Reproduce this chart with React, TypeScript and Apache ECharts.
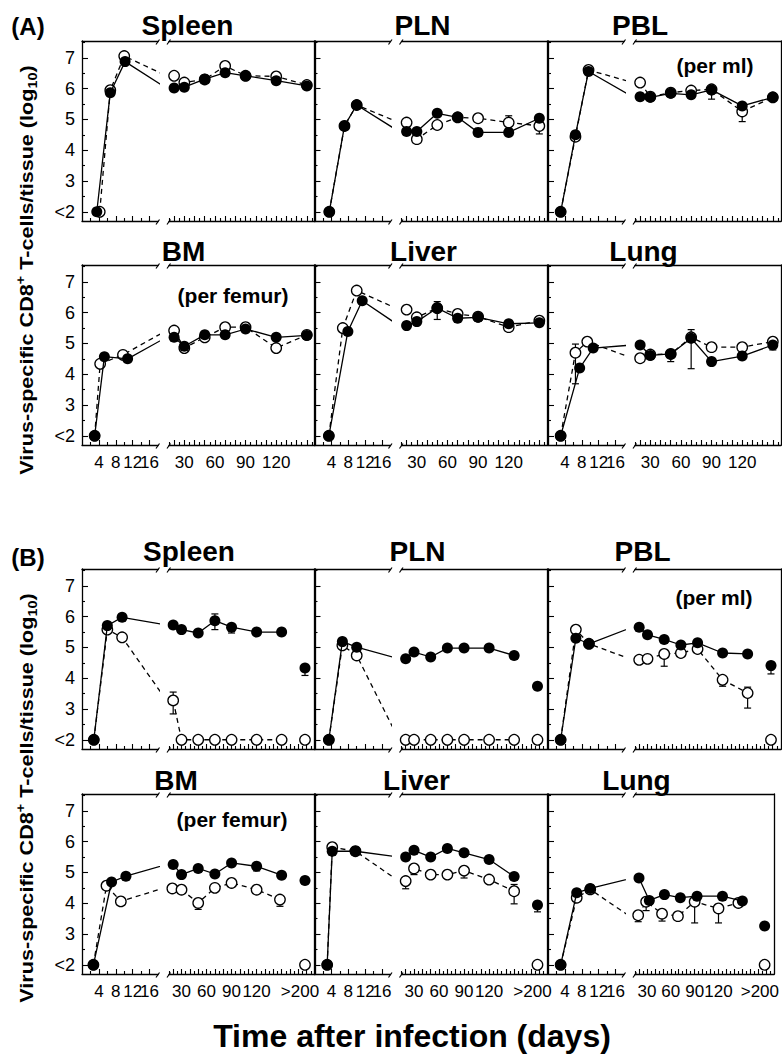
import React, { useEffect, useRef } from "react";
import * as echarts from "echarts";

const FONT = '"Liberation Sans", Arial, Helvetica, sans-serif';

// ---------------- axes / tick labels ----------------
const Y_MIN = 1.7;
const Y_MAX = 7.55;
const yMajorTicks = [2, 3, 4, 5, 6, 7];
const yMinorTicks = [2.5, 3.5, 4.5, 5.5, 6.5, 7.5];
const yTickLabels = ["<2", "3", "4", "5", "6", "7"];

const EARLY_MIN = 0;
const EARLY_MAX = 18;
const earlyMajorTicks = [4, 8, 12, 16];
const earlyMinorTicks = [2, 6, 10, 14];
const earlyLabelValues1 = [4, 8, 12];
const earlyTickLabels1 = ["4", "8", "12"];
const earlyLabelValues2 = [16];
const earlyTickLabels2 = ["16"];

const LATE_MIN = 15;
const LATE_MAX_A = 158;
const LATE_MAX_B = 190;
const lateMajorTicksA = [20, 30, 40, 50, 60, 70, 80, 90, 100, 110, 120, 130, 140, 150];
const lateMinorTicksA = [15, 25, 35, 45, 55, 65, 75, 85, 95, 105, 115, 125, 135, 145, 155];
const lateMajorTicksB = [20, 30, 40, 50, 60, 70, 80, 90, 100, 110, 120, 130, 140, 150, 160, 170, 180];
const lateMinorTicksB = [15, 25, 35, 45, 55, 65, 75, 85, 95, 105, 115, 125, 135, 145, 155, 165, 175, 185];
const lateLabelValuesA = [30, 60, 90, 120];
const lateTickLabelsA = ["30", "60", "90", "120"];
const lateLabelValuesB = [30, 60, 90, 120, 172];
const lateTickLabelsB = ["30", "60", "90", "120", ">200"];
const OVER200_DAY = 178;

// ---------------- data (days after infection, log10 cells) ----------------
const LATE = [20, 30, 50, 70, 90, 120, 150];

// (A) Spleen
const aSpleenFilledDays = [3.5, 6.7, 10.2, ...LATE];
const aSpleenFilled = [2, 5.87, 6.88, 6.02, 6.05, 6.31, 6.52, 6.42, 6.26, 6.09];
const aSpleenOpenDays = [4.2, 6.7, 10, ...LATE];
const aSpleenOpen = [2, 5.95, 7.06, 6.42, 6.2, 6.3, 6.74, 6.42, 6.4, 6.12];
// (A) PLN
const aPlnDays = [3.5, 7.1, 10, ...LATE];
const aPlnFilled = [2, 4.79, 5.47, 4.61, 4.61, 5.2, 5.07, 4.58, 4.58, 5.04];
const aPlnOpen = [2, 4.79, 5.47, 4.9, 4.36, 4.82, 5.07, 5.04, 4.9, 4.79];
const aPlnOpenErr = [[120, 4.9, 5.12], [150, 4.53, 4.79]];
// (A) PBL
const aPblDays = [3, 6.5, 9.6, ...LATE];
const aPblFilled = [2, 4.5, 6.56, 5.74, 5.72, 5.85, 5.8, 5.96, 5.44, 5.72];
const aPblOpen = [2, 4.44, 6.61, 6.2, 5.74, 5.87, 5.94, 5.98, 5.26, 5.72];
const aPblFilledErr = [[90, 5.66, 5.96]];
const aPblOpenErr = [[120, 4.93, 5.26]];
// (A) BM
const aBmFilledDays = [3, 5.3, 10.8, ...LATE];
const aBmFilled = [2, 4.57, 4.5, 5.2, 4.91, 5.28, 5.28, 5.47, 5.2, 5.26];
const aBmOpenDays = [3, 4.3, 9.7, ...LATE];
const aBmOpen = [2, 4.34, 4.63, 5.42, 4.85, 5.2, 5.53, 5.53, 4.85, 5.28];
// (A) Liver
const aLiverFilledDays = [3.4, 7.9, 11.3, ...LATE];
const aLiverFilled = [2, 5.39, 6.39, 5.58, 5.71, 6.15, 5.82, 5.85, 5.64, 5.67];
const aLiverOpenDays = [3.4, 6.7, 10, ...LATE];
const aLiverOpen = [2, 5.5, 6.72, 6.1, 5.85, 6.15, 5.96, 5.87, 5.53, 5.74];
const aLiverFilledErr = [[50, 5.78, 6.36]];
// (A) Lung
const aLungFilledDays = [3, 7.5, 10.7, ...LATE];
const aLungFilled = [2, 4.2, 4.85, 4.95, 4.61, 4.66, 5.17, 4.41, 4.59, 4.95];
const aLungOpenDays = [3, 6.5, 9.3, ...LATE];
const aLungOpen = [2, 4.7, 5.06, 4.52, 4.64, 4.66, 5.2, 4.88, 4.88, 5.06];
const aLungFilledErr = [[50, 4.41, 4.66], [70, 4.18, 5.45]];
const aLungOpenErr = [[6.5, 3.69, 4.98], [150, 4.79, 5.06]];

// (B) Spleen
const bSpleenDays = [2.8, 6, 9.5, ...LATE];
const bSpleenFilled = [2, 5.71, 5.98, 5.73, 5.58, 5.47, 5.87, 5.66, 5.5, 5.5];
const bSpleenOpen = [2, 5.58, 5.33, 3.28, 2, 2, 2, 2, 2, 2];
const bSpleenFilledErr = [[70, 5.58, 6.09], [90, 5.47, 5.66], [OVER200_DAY, 4.09, 4.33]];
const bSpleenOpenErr = [[20, 2.84, 3.55]];
const bSpleenOver200 = [4.33, 2]; // filled, open
// (B) PLN
const bPlnDays = [3.4, 6.6, 10, ...LATE];
const bPlnFilled = [2, 5.19, 5.01, 4.63, 4.85, 4.69, 4.98, 4.98, 4.98, 4.74];
const bPlnOpen = [2, 5.07, 4.74, 2, 2, 2, 2, 2, 2, 2];
const bPlnOver200 = [3.74, 2];
// (B) PBL
const bPblDays = [3, 6.6, 9.7, ...LATE];
const bPblFilled = [2, 5.3, 5.12, 5.66, 5.41, 5.26, 5.08, 5.15, 4.82, 4.79];
const bPblOpen = [2, 5.58, 5.12, 4.6, 4.63, 4.79, 4.82, 4.95, 3.95, 3.52];
const bPblFilledErr = [[OVER200_DAY, 4.14, 4.41]];
const bPblOpenErr = [[50, 4.39, 4.79], [120, 3.74, 3.95], [150, 3.03, 3.71]];
const bPblOver200 = [4.41, 2];
// (B) BM
const bBmFilledDays = [2.7, 7, 10.4, ...LATE];
const bBmFilled = [2, 4.69, 4.88, 5.26, 4.93, 5.13, 4.95, 5.31, 5.2, 4.91];
const bBmOpenDays = [2.7, 5.8, 9.2, 19, 30, 50, 70, 90, 120, 148];
const bBmOpen = [2, 4.57, 4.06, 4.48, 4.44, 4.01, 4.5, 4.66, 4.44, 4.12];
const bBmFilledErr = [[120, 5.05, 5.2]];
const bBmOpenErr = [[50, 3.8, 4.01], [148, 3.9, 4.12]];
const bBmOver200 = [4.74, 2];
// (B) Liver
const bLiverDays = [3, 4.2, 9.7, ...LATE];
const bLiverFilled = [2, 5.69, 5.69, 5.5, 5.72, 5.5, 5.78, 5.64, 5.42, 4.87];
const bLiverOpen = [2, 5.82, 5.69, 4.72, 5.13, 4.93, 4.93, 5.06, 4.77, 4.39];
const bLiverFilledErr = [[OVER200_DAY, 3.72, 3.94]];
const bLiverOpenErr = [[20, 4.47, 4.72], [30, 4.93, 5.13], [90, 4.82, 5.06], [150, 3.98, 4.61]];
const bLiverOver200 = [3.94, 2];
// (B) Lung
const bLungFilledDays = [3, 6.8, 10, 20, 33, 52, 72, 93, 125, 150];
const bLungFilled = [2, 4.34, 4.48, 4.82, 4.09, 4.28, 4.18, 4.23, 4.23, 4.07];
const bLungOpenDays = [3, 6.8, 10, 19, 29, 49, 69, 90, 120, 145];
const bLungOpen = [2, 4.18, 4.45, 3.61, 4.05, 3.66, 3.58, 4.05, 3.83, 4.01];
const bLungOpenErr = [[19, 3.4, 3.61], [29, 3.76, 4.05], [49, 3.42, 3.66], [90, 3.36, 4.05], [120, 3.36, 3.83]];
const bLungOver200 = [3.26, 2];

// ---------------- layout ----------------
const W = 782;
const H = 1054;
const ROW_TOPS = [41, 265, 569, 794];
const COL_LEFTS = [82, 314.5, 548];
const PANEL_W = 233;
const PANEL_H = 180;
const EARLY_W = 76;
const LATE_OFF = 87;

type Panel = {
  row: number; col: number; name: string; tx: number; ty: number;
  fd: number[]; f: number[]; od: number[]; o: number[];
  fe?: number[][]; oe?: number[][]; over?: number[];
};

const panels: Panel[] = [
  { row: 0, col: 0, name: "Spleen", tx: 187.5, ty: 25, fd: aSpleenFilledDays, f: aSpleenFilled, od: aSpleenOpenDays, o: aSpleenOpen },
  { row: 0, col: 1, name: "PLN", tx: 422.5, ty: 25, fd: aPlnDays, f: aPlnFilled, od: aPlnDays, o: aPlnOpen, oe: aPlnOpenErr },
  { row: 0, col: 2, name: "PBL", tx: 640, ty: 25, fd: aPblDays, f: aPblFilled, od: aPblDays, o: aPblOpen, fe: aPblFilledErr, oe: aPblOpenErr },
  { row: 1, col: 0, name: "BM", tx: 183.5, ty: 251, fd: aBmFilledDays, f: aBmFilled, od: aBmOpenDays, o: aBmOpen },
  { row: 1, col: 1, name: "Liver", tx: 423.5, ty: 251, fd: aLiverFilledDays, f: aLiverFilled, od: aLiverOpenDays, o: aLiverOpen, fe: aLiverFilledErr },
  { row: 1, col: 2, name: "Lung", tx: 643.5, ty: 251, fd: aLungFilledDays, f: aLungFilled, od: aLungOpenDays, o: aLungOpen, fe: aLungFilledErr, oe: aLungOpenErr },
  { row: 2, col: 0, name: "Spleen", tx: 189, ty: 551, fd: bSpleenDays, f: bSpleenFilled, od: bSpleenDays, o: bSpleenOpen, fe: bSpleenFilledErr, oe: bSpleenOpenErr, over: bSpleenOver200 },
  { row: 2, col: 1, name: "PLN", tx: 417.5, ty: 551, fd: bPlnDays, f: bPlnFilled, od: bPlnDays, o: bPlnOpen, over: bPlnOver200 },
  { row: 2, col: 2, name: "PBL", tx: 642.5, ty: 551, fd: bPblDays, f: bPblFilled, od: bPblDays, o: bPblOpen, fe: bPblFilledErr, oe: bPblOpenErr, over: bPblOver200 },
  { row: 3, col: 0, name: "BM", tx: 176, ty: 780, fd: bBmFilledDays, f: bBmFilled, od: bBmOpenDays, o: bBmOpen, fe: bBmFilledErr, oe: bBmOpenErr, over: bBmOver200 },
  { row: 3, col: 1, name: "Liver", tx: 416.5, ty: 780, fd: bLiverDays, f: bLiverFilled, od: bLiverDays, o: bLiverOpen, fe: bLiverFilledErr, oe: bLiverOpenErr, over: bLiverOver200 },
  { row: 3, col: 2, name: "Lung", tx: 636.5, ty: 780, fd: bLungFilledDays, f: bLungFilled, od: bLungOpenDays, o: bLungOpen, oe: bLungOpenErr, over: bLungOver200 },
];

const notes = [
  { text: "(per ml)", x: 715, y: 65 },
  { text: "(per femur)", x: 233, y: 295 },
  { text: "(per ml)", x: 714, y: 597 },
  { text: "(per femur)", x: 232, y: 819 },
];

function buildOption() {
  const grid: any[] = [];
  const xAxis: any[] = [];
  const yAxis: any[] = [];
  const series: any[] = [];
  const graphic: any[] = [];

  const lineStyle = { color: "#000", width: 1.3 };
  const tickStyle = { color: "#000", width: 1.1 };
  const labelStyle = {
    color: "#000", fontSize: 17, fontFamily: FONT,
    hideOverlap: false, showMinLabel: true, showMaxLabel: true,
  };

  const addX = (o: any) => {
    xAxis.push({ type: "value", splitLine: { show: false }, axisLabel: { show: false }, axisTick: { show: false }, axisLine: { show: false }, ...o });
    return xAxis.length - 1;
  };
  const addY = (o: any) => {
    yAxis.push({ type: "value", splitLine: { show: false }, axisLabel: { show: false }, axisTick: { show: false }, axisLine: { show: false }, ...o });
    return yAxis.length - 1;
  };
  const lab = (values: number[], texts: string[]) => ({
    show: true, customValues: values, margin: 9, ...labelStyle,
    formatter: (v: number) => texts[values.indexOf(v)] ?? "",
  });

  const errSeries = (data: number[][], xi: number, yi: number) => ({
    type: "custom",
    xAxisIndex: xi,
    yAxisIndex: yi,
    data,
    z: 1,
    silent: true,
    renderItem: (_p: any, api: any) => {
      const lo = api.coord([api.value(0), api.value(1)]);
      const hi = api.coord([api.value(0), api.value(2)]);
      const w = 3.5;
      const st = { stroke: "#000", lineWidth: 1.2 };
      return {
        type: "group",
        children: [
          { type: "line", shape: { x1: lo[0], y1: lo[1], x2: hi[0], y2: hi[1] }, style: st },
          { type: "line", shape: { x1: lo[0] - w, y1: lo[1], x2: lo[0] + w, y2: lo[1] }, style: st },
          { type: "line", shape: { x1: hi[0] - w, y1: hi[1], x2: hi[0] + w, y2: hi[1] }, style: st },
        ],
      };
    },
  });

  panels.forEach((p) => {
    const top = ROW_TOPS[p.row];
    const left = COL_LEFTS[p.col];
    const isB = p.row >= 2;
    const labelled = p.row % 2 === 1;
    const lateMax = isB ? LATE_MAX_B : LATE_MAX_A;
    const lateMajor = isB ? lateMajorTicksB : lateMajorTicksA;
    const lateMinor = isB ? lateMinorTicksB : lateMinorTicksA;
    const lateLabVals = isB ? lateLabelValuesB : lateLabelValuesA;
    const lateLabTxt = isB ? lateTickLabelsB : lateTickLabelsA;

    grid.push({ left, top, width: EARLY_W, height: PANEL_H });
    const gE = grid.length - 1;
    grid.push({ left: left + LATE_OFF, top, width: PANEL_W - LATE_OFF, height: PANEL_H });
    const gL = grid.length - 1;

    // early segment axes
    const xE = addX({
      gridIndex: gE, min: EARLY_MIN, max: EARLY_MAX, position: "bottom",
      axisLine: { show: true, onZero: false, lineStyle },
      axisTick: { show: true, inside: true, length: 5, customValues: earlyMajorTicks, lineStyle: tickStyle },
      axisLabel: labelled ? lab(earlyLabelValues1, earlyTickLabels1) : { show: false },
    });
    addX({
      gridIndex: gE, min: EARLY_MIN, max: EARLY_MAX, position: "bottom",
      axisTick: { show: true, inside: true, length: 3, customValues: earlyMinorTicks, lineStyle: tickStyle },
      axisLabel: labelled ? lab(earlyLabelValues2, earlyTickLabels2) : { show: false },
    });
    addX({ gridIndex: gE, min: EARLY_MIN, max: EARLY_MAX, position: "top", axisLine: { show: true, onZero: false, lineStyle } });
    const yE = addY({
      gridIndex: gE, min: Y_MIN, max: Y_MAX, position: "left",
      axisLine: { show: true, onZero: false, lineStyle },
      axisTick: { show: true, inside: true, length: 6, customValues: yMajorTicks, lineStyle: tickStyle },
      axisLabel: p.col === 0
        ? { show: true, customValues: yMajorTicks, margin: 7, ...labelStyle, fontSize: 18, formatter: (v: number) => yTickLabels[yMajorTicks.indexOf(v)] ?? "" }
        : { show: false },
    });
    addY({
      gridIndex: gE, min: Y_MIN, max: Y_MAX, position: "left",
      axisTick: { show: true, inside: true, length: 3, customValues: yMinorTicks, lineStyle: tickStyle },
    });

    // late segment axes
    const xL = addX({
      gridIndex: gL, min: LATE_MIN, max: lateMax, position: "bottom",
      axisLine: { show: true, onZero: false, lineStyle },
      axisTick: { show: true, inside: true, length: 5, customValues: lateMajor, lineStyle: tickStyle },
      axisLabel: labelled ? lab(lateLabVals, lateLabTxt) : { show: false },
    });
    addX({
      gridIndex: gL, min: LATE_MIN, max: lateMax, position: "bottom",
      axisTick: { show: true, inside: true, length: 3, customValues: lateMinor, lineStyle: tickStyle },
    });
    addX({ gridIndex: gL, min: LATE_MIN, max: lateMax, position: "top", axisLine: { show: true, onZero: false, lineStyle } });
    const yL = addY({ gridIndex: gL, min: Y_MIN, max: Y_MAX, position: "right", axisLine: { show: true, onZero: false, lineStyle } });

    // early grid: all points (the first late point gives the clipped connector);
    // late grid: only the late points
    const openAll = p.od.map((d, k) => [d, p.o[k]]);
    const filledAll = p.fd.map((d, k) => [d, p.f[k]]);
    const openLate = openAll.filter((pt) => pt[0] > EARLY_MAX);
    const filledLate = filledAll.filter((pt) => pt[0] > EARLY_MAX);

    const sets: [number, number, number[][], number[][]][] = [
      [xE, yE, openAll, filledAll],
      [xL, yL, openLate, filledLate],
    ];
    sets.forEach(([xi, yi, od, fd]) => {
      series.push({
        type: "line", xAxisIndex: xi, yAxisIndex: yi, data: od, clip: true, silent: true,
        symbol: "circle", symbolSize: 10.5, showSymbol: true, showAllSymbol: true,
        lineStyle: { color: "#000", width: 1.3, type: [5, 4] },
        itemStyle: { color: "#fff", borderColor: "#000", borderWidth: 1.3, opacity: 1 },
        emphasis: { disabled: true }, z: 2,
      });
      series.push({
        type: "line", xAxisIndex: xi, yAxisIndex: yi, data: fd, clip: true, silent: true,
        symbol: "circle", symbolSize: 11, showSymbol: true, showAllSymbol: true,
        lineStyle: { color: "#000", width: 1.3 },
        itemStyle: { color: "#000", borderColor: "#000", borderWidth: 0, opacity: 1 },
        emphasis: { disabled: true }, z: 3,
      });
    });

    const errs = [...(p.fe || []), ...(p.oe || [])];
    const errEarly = errs.filter((e) => e[0] < EARLY_MAX);
    const errLate = errs.filter((e) => e[0] >= EARLY_MAX);
    if (errEarly.length) series.push(errSeries(errEarly, xE, yE));
    if (errLate.length) series.push(errSeries(errLate, xL, yL));

    if (p.over) {
      series.push({
        type: "scatter", xAxisIndex: xL, yAxisIndex: yL, data: [[OVER200_DAY, p.over[1]]], silent: true,
        symbol: "circle", symbolSize: 10.5, emphasis: { disabled: true },
        itemStyle: { color: "#fff", borderColor: "#000", borderWidth: 1.3, opacity: 1 }, z: 2,
      });
      series.push({
        type: "scatter", xAxisIndex: xL, yAxisIndex: yL, data: [[OVER200_DAY, p.over[0]]], silent: true,
        symbol: "circle", symbolSize: 11, emphasis: { disabled: true },
        itemStyle: { color: "#000", opacity: 1 }, z: 3,
      });
    }

    // break marks
    const xe = left + EARLY_W;
    const xl = left + LATE_OFF;
    [top, top + PANEL_H].forEach((yy) => {
      [xe, xl].forEach((xx) => {
        graphic.push({
          type: "line", silent: true,
          shape: { x1: xx - 2, y1: yy + 3.5, x2: xx + 1.5, y2: yy - 1.5 },
          style: { stroke: "#000", lineWidth: 1.2 },
        });
      });
    });

    // panel title
    graphic.push({
      type: "text", x: p.tx, y: p.ty, silent: true,
      style: { text: p.name, fill: "#000", fontSize: 28, fontWeight: "bold", fontFamily: FONT, align: "center", verticalAlign: "middle" },
    });
  });

  notes.forEach((n) => {
    graphic.push({
      type: "text", x: n.x, y: n.y, silent: true,
      style: { text: n.text, fill: "#000", fontSize: 21, fontWeight: "bold", fontFamily: FONT, align: "center", verticalAlign: "middle" },
    });
  });

  [["(A)", 28, 26], ["(B)", 28, 557]].forEach(([t, x, y]) => {
    graphic.push({
      type: "text", x, y, silent: true,
      style: { text: t, fill: "#000", fontSize: 24, fontWeight: "bold", fontFamily: FONT, align: "center", verticalAlign: "middle" },
    });
  });

  const rich = {
    a: { fontSize: 18, fontWeight: "bold", fontFamily: FONT, fill: "#000", lineHeight: 24 },
    sup: { fontSize: 12, fontWeight: "bold", fontFamily: FONT, fill: "#000", verticalAlign: "top", lineHeight: 14 },
    sub: { fontSize: 12, fontWeight: "bold", fontFamily: FONT, fill: "#000", verticalAlign: "bottom", lineHeight: 14 },
  };
  [270, 798].forEach((cy) => {
    graphic.push({
      type: "text", x: 27, y: cy, rotation: Math.PI / 2, scaleX: 1.2, silent: true,
      style: {
        text: "{a|Virus-specific CD8}{sup|+}{a| T-cells/tissue (log}{sub|10}{a|)}",
        rich, align: "center", verticalAlign: "middle", fill: "#000",
      },
    });
  });

  graphic.push({
    type: "text", x: 412, y: 1036, silent: true,
    style: { text: "Time after infection (days)", fill: "#000", fontSize: 32, fontWeight: "bold", fontFamily: FONT, align: "center", verticalAlign: "middle" },
  });

  return { animation: false, backgroundColor: "#fff", grid, xAxis, yAxis, series, graphic };
}

export default function App() {
  const ref = useRef<HTMLDivElement>(null);
  useEffect(() => {
    document.body.style.margin = "0";
    const chart = echarts.init(ref.current!, null, { renderer: "svg" });
    chart.setOption(buildOption() as any);
    return () => chart.dispose();
  }, []);
  return <div ref={ref} style={{ width: W, height: H }} />;
}
